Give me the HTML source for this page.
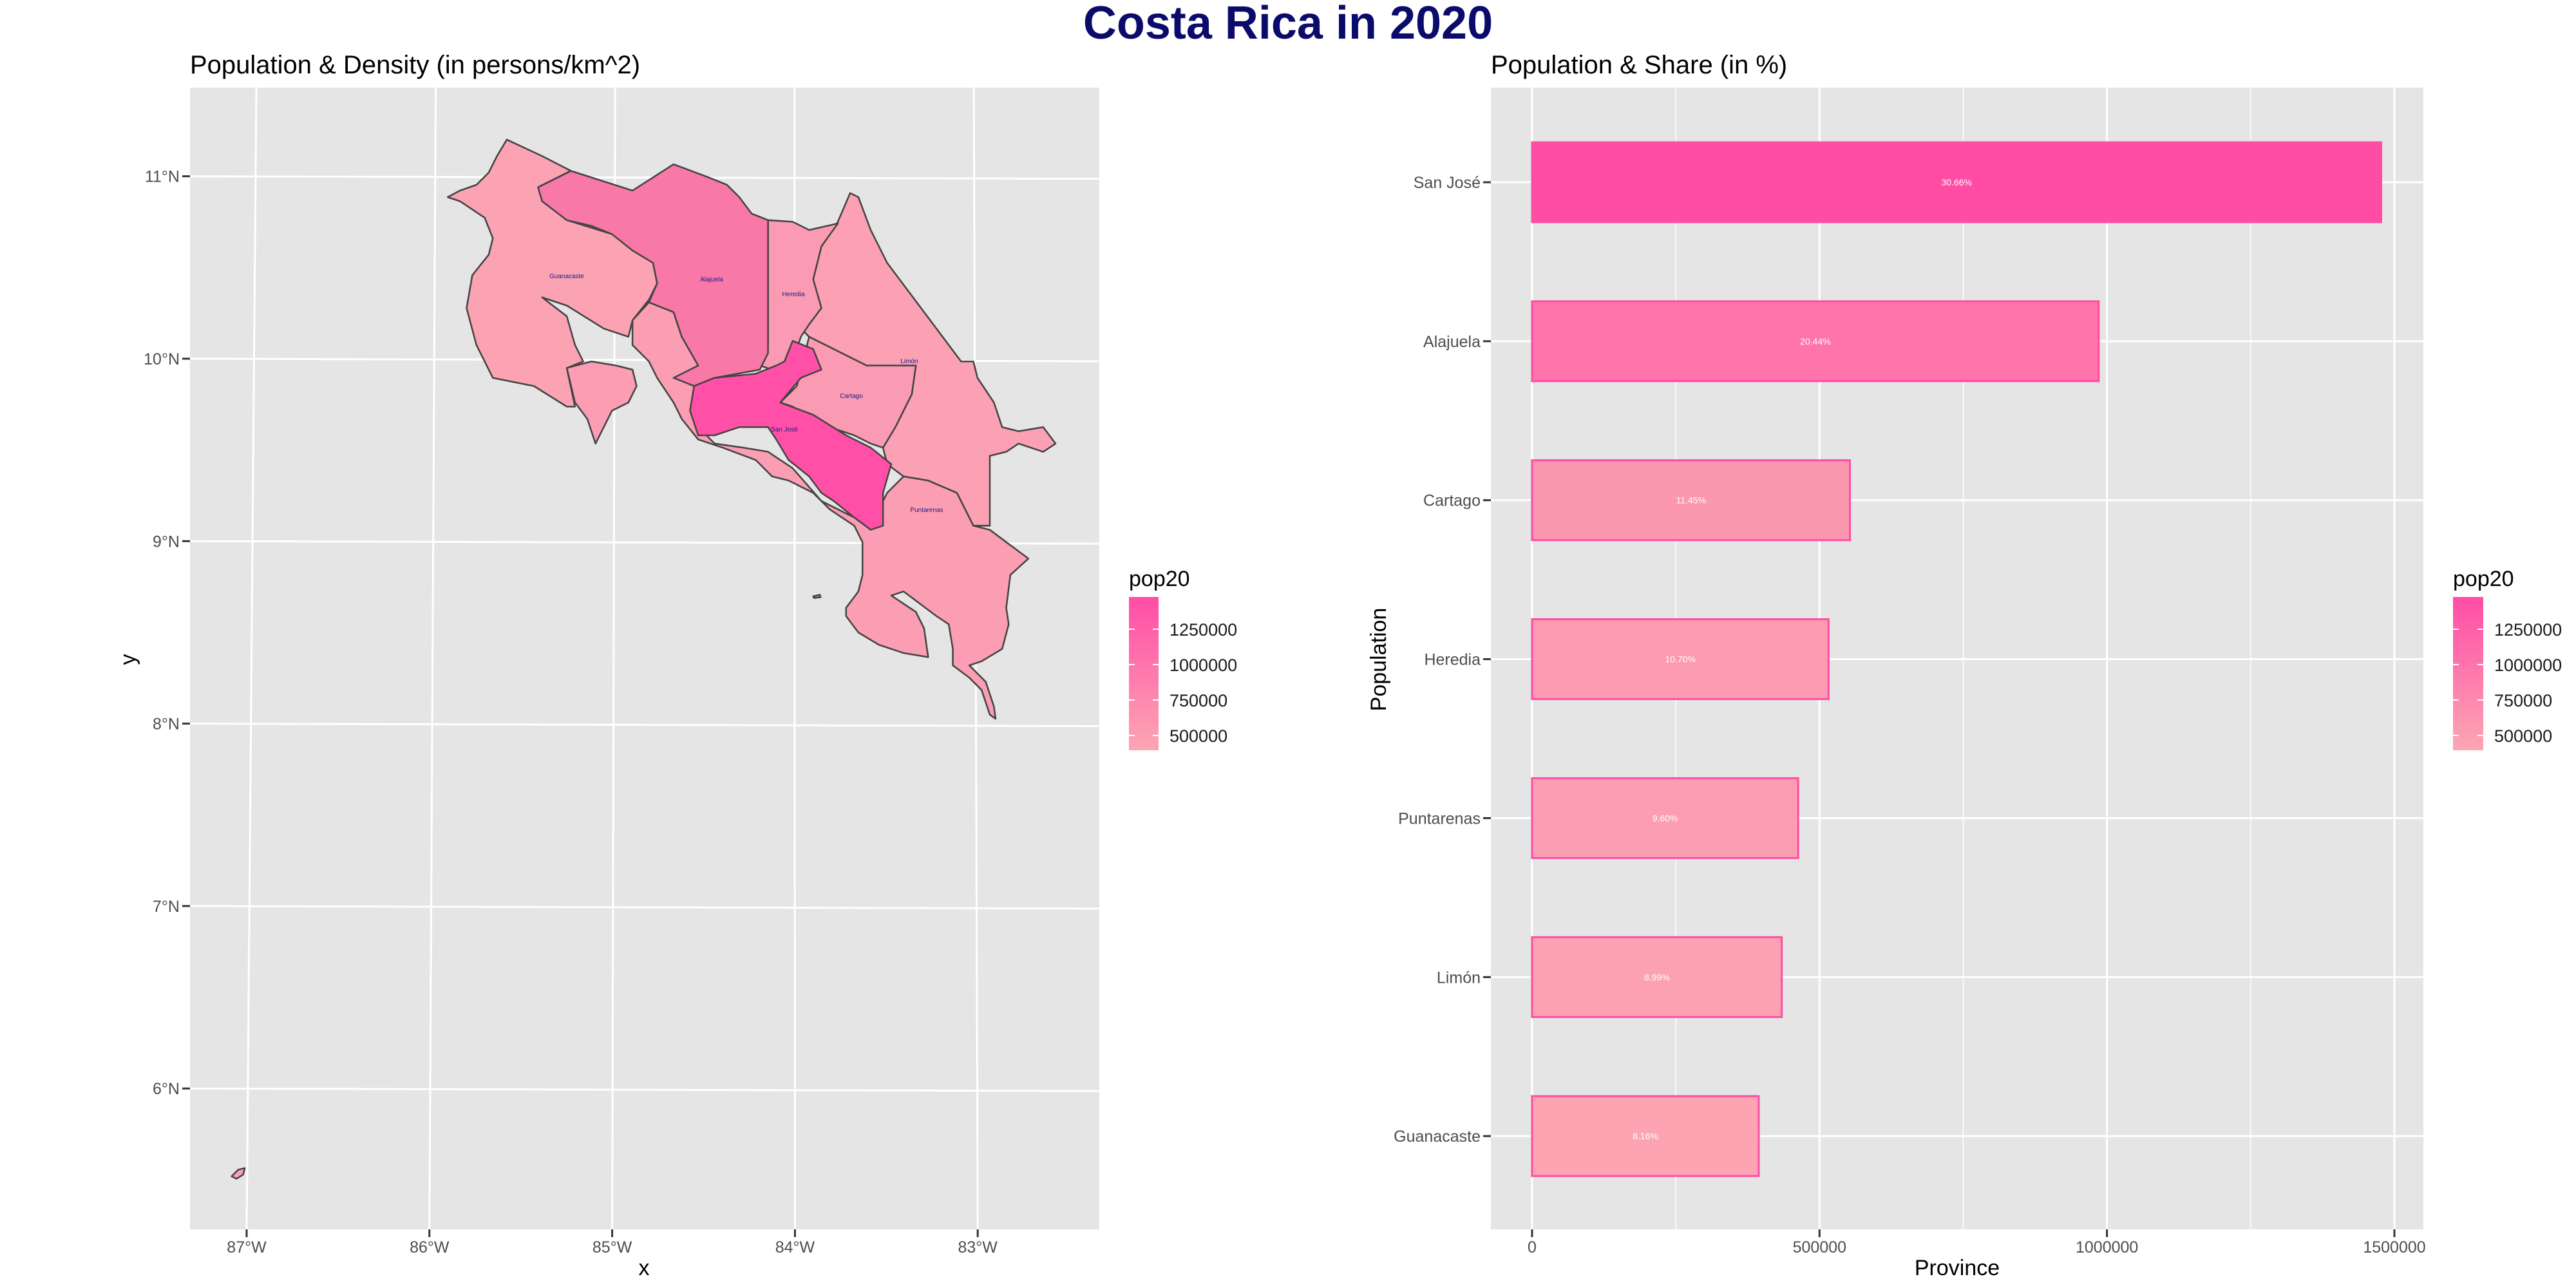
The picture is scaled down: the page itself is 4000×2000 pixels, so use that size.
<!DOCTYPE html>
<html><head><meta charset="utf-8">
<style>
html,body{margin:0;padding:0;background:#fff;}
svg{display:block;font-family:"Liberation Sans",Arial,sans-serif;}
</style></head>
<body>
<svg id="root" width="4000" height="2000" viewBox="0 0 4000 2000" xmlns="http://www.w3.org/2000/svg">
<text x="2000" y="60" text-anchor="middle" font-size="72" font-weight="bold" fill="#0B0B6B">Costa Rica in 2020</text>

<!-- MAP PANEL -->
<text x="295" y="114" font-size="40" fill="#000">Population &amp; Density (in persons/km^2)</text>
<rect x="295" y="136" width="1412" height="1773" fill="#E5E5E5"/>
<g id="mapgrid"></g>
<g id="mapticks"></g>
<g transform="scale(1.2755)" fill="#FBA3B2" stroke="#444" stroke-width="2" stroke-linejoin="round">
<polygon points="617,170 660,190 695,208 655,228 690,268 745,285 795,320 800,345 790,365 770,390 765,410 735,400 690,372 660,362 690,385 700,420 710,440 690,448 700,495 690,495 650,470 600,460 580,420 568,375 575,335 595,310 600,290 590,265 560,245 545,240 560,232 580,225 595,210 605,190"/>
<polygon fill="#FB9EB3" points="770,390 790,368 820,380 830,410 850,445 860,470 845,490 850,520 870,540 905,545 935,550 965,570 1000,610 1040,630 1060,640 1080,600 1100,580 1130,585 1165,600 1185,640 1205,645 1225,660 1252,680 1230,700 1225,740 1228,760 1220,790 1195,805 1180,810 1200,830 1210,860 1212,875 1205,870 1195,840 1180,825 1160,810 1160,790 1155,760 1140,750 1120,735 1100,720 1085,725 1115,745 1125,765 1130,800 1100,795 1070,785 1045,770 1030,750 1030,740 1045,720 1050,700 1050,660 1040,640 1010,620 990,600 960,585 940,580 920,560 880,545 850,535 830,510 820,490 800,460 790,440 770,420"/>
<polygon fill="#FB9EB3" points="690,448 720,440 750,445 770,450 775,470 765,490 745,500 735,520 725,540 715,510 700,490"/>
<polygon fill="#FBA1B3" points="1000,300 1020,270 1035,235 1045,240 1060,280 1080,320 1110,360 1140,400 1170,440 1185,440 1190,460 1210,490 1220,520 1240,525 1270,520 1285,540 1270,550 1240,540 1225,550 1205,555 1205,640 1185,640 1165,600 1130,585 1100,580 1080,565 1075,545 1090,520 1110,480 1115,445 1055,445 985,410 975,400"/>
<polygon fill="#FB9BB3" points="935,268 965,270 985,280 1020,272 1000,300 990,340 1000,375 985,395 975,410 965,440 940,450 925,445 935,420"/>
<polygon fill="#F878A8" points="655,228 695,208 770,232 820,200 860,215 885,225 900,240 915,260 935,268 935,430 925,450 870,460 845,470 820,460 850,445 830,410 820,380 790,368 800,345 795,320 770,305 745,285 720,275 690,268 660,245"/>
<polygon fill="#FB9BB3" points="985,410 1055,445 1115,445 1110,480 1090,520 1075,545 1060,540 1040,530 1010,520 985,510 965,495 950,490 970,470 975,450"/>
<polygon fill="#FF4FA6" points="965,415 990,425 1000,450 975,460 950,490 990,505 1030,530 1060,545 1085,565 1075,600 1075,640 1060,645 1040,630 1015,610 1000,600 985,580 960,560 945,535 935,520 900,520 870,530 850,530 840,500 845,470 870,460 920,455 945,445 955,440"/>
<polygon points="282,1432 290,1424 298,1422 296,1430 288,1435"/>
<polygon points="990,726 998,724 999,727 991,728"/>
</g>
<g font-size="10" fill="#1a1a8a" text-anchor="middle">
<text x="880" y="432">Guanacaste</text><text x="1105" y="437">Alajuela</text><text x="1232" y="460">Heredia</text>
<text x="1412" y="564">Limón</text><text x="1322" y="618">Cartago</text><text x="1218" y="670">San José</text><text x="1439" y="795">Puntarenas</text>
</g>
<text x="1000" y="1980" font-size="34" text-anchor="middle">x</text>
<text transform="translate(210,1024) rotate(-90)" font-size="34" text-anchor="middle">y</text>

<defs>
<linearGradient id="lg" x1="0" y1="1" x2="0" y2="0">
<stop offset="0" stop-color="#FCA6B3"/><stop offset="1" stop-color="#FF4DA6"/>
</linearGradient>
</defs>
<g>
<text x="1753" y="910" font-size="34">pop20</text>
<rect x="1753" y="927" width="46" height="238" fill="url(#lg)"/>
<g id="legend1"></g>
</g>

<!-- BAR PANEL -->
<text x="2315" y="114" font-size="40" fill="#000">Population &amp; Share (in %)</text>
<rect x="2315" y="136" width="1448" height="1773" fill="#E5E5E5"/>
<g id="bargrid"></g>
<g id="bars"></g>
<g id="barticks"></g>
<text x="3039" y="1980" font-size="34" text-anchor="middle">Province</text>
<text transform="translate(2152,1024) rotate(-90)" font-size="34" text-anchor="middle">Population</text>
<g>
<text x="3809" y="910" font-size="34">pop20</text>
<rect x="3809" y="927" width="47" height="238" fill="url(#lg)"/>
<g id="legend2"></g>
</g>
</svg>
<script>
const provinces = ["San José","Alajuela","Cartago","Heredia","Puntarenas","Limón","Guanacaste"];
const population = [1477000, 985700, 552900, 515700, 462900, 434300, 394300];
const shareLabels = ["30.66%","20.44%","11.45%","10.70%","9.60%","8.99%","8.16%"];
const xTicks = [0, 500000, 1000000, 1500000];
const xMinorTicks = [250000, 750000, 1250000];
const legendTicks = [500000, 750000, 1000000, 1250000];
const latTicks = [11,10,9,8,7,6];
const lonTicks = [-87,-86,-85,-84,-83];

const NS = "http://www.w3.org/2000/svg";
function mk(tag, attrs, parent){const e=document.createElementNS(NS,tag);for(const k in attrs)e.setAttribute(k,attrs[k]);parent.appendChild(e);return e;}

const xS = v => 2379 + v*(3718-2379)/1500000;
const yS = i => 283 + i*246.85;
const popMin = 394300, popMax = 1477000;
function col(v){const t=Math.max(0,Math.min(1,(v-popMin)/(popMax-popMin)));
  const a=[252,164,178], b=[255,77,166];
  return `rgb(${Math.round(a[0]+(b[0]-a[0])*t)},${Math.round(a[1]+(b[1]-a[1])*t)},${Math.round(a[2]+(b[2]-a[2])*t)})`;}

const bg=document.getElementById('bargrid');
xMinorTicks.forEach(v=>{const l=mk('line',{x1:xS(v),x2:xS(v),y1:136,y2:1909,stroke:'#fff','stroke-width':1.5},bg);

});
xTicks.forEach(v=>{const l=mk('line',{x1:xS(v),x2:xS(v),y1:136,y2:1909,stroke:'#fff','stroke-width':3},bg);

});
provinces.forEach((p,i)=>{const l=mk('line',{x1:2315,x2:3763,y1:yS(i),y2:yS(i),stroke:'#fff','stroke-width':3},bg);

});

const bars=document.getElementById('bars');
const bt=document.getElementById('barticks');
provinces.forEach((p,i)=>{
  const r=mk('rect',{x:xS(0),y:yS(i)-62,width:xS(population[i])-xS(0),height:124,fill:col(population[i]),stroke:'#FF4DA6','stroke-width':3},bars);
  
  
  const t=mk('text',{x:(xS(0)+xS(population[i]))/2,y:yS(i)+5,'font-size':14,fill:'#fff','text-anchor':'middle'},bars);
  t.textContent=shareLabels[i];
  
  
  mk('line',{x1:2303,x2:2315,y1:yS(i),y2:yS(i),stroke:'#333','stroke-width':3},bt);
  const c=mk('text',{x:2299,y:yS(i)+9,'font-size':25,fill:'#4d4d4d','text-anchor':'end'},bt);
  c.textContent=p;
  
  
});
xTicks.forEach(v=>{
  mk('line',{x1:xS(v),x2:xS(v),y1:1909,y2:1921,stroke:'#333','stroke-width':3},bt);
  const t=mk('text',{x:xS(v),y:1945,'font-size':25,fill:'#4d4d4d','text-anchor':'middle'},bt);
  t.textContent=v;
  
  
});

const legY = v => 1142 + (v-500000)*(977-1142)/750000;
[['legend1',1753,1799],['legend2',3809,3856]].forEach(([id,x0,x1])=>{
  const g=document.getElementById(id);
  legendTicks.forEach(v=>{
    mk('line',{x1:x0,x2:x0+9,y1:legY(v),y2:legY(v),stroke:'#fff','stroke-width':2},g);
    mk('line',{x1:x1-9,x2:x1,y1:legY(v),y2:legY(v),stroke:'#fff','stroke-width':2},g);
    const t=mk('text',{x:x1+17,y:legY(v)+10,'font-size':27,fill:'#1a1a1a'},g);
    t.textContent=v;
    
    
  });
});

const latY = (lat,x) => 557 - (lat-10)*283.3 + (x-295)*0.0028;
const lonX = (lon,y) => 383 + (lon+87)*283.8 + (1909-y)*0.0085*(1+(lon+87)*-0.35);
const mg=document.getElementById('mapgrid'), mt=document.getElementById('mapticks');
latTicks.forEach(lat=>{
  const l=mk('line',{x1:295,x2:1707,y1:latY(lat,295),y2:latY(lat,1707),stroke:'#fff','stroke-width':3},mg);
  
  
  mk('line',{x1:283,x2:295,y1:latY(lat,295),y2:latY(lat,295),stroke:'#333','stroke-width':3},mt);
  const t=mk('text',{x:279,y:latY(lat,295)+9,'font-size':25,fill:'#4d4d4d','text-anchor':'end'},mt);
  t.textContent=lat+'°N';
  
  
});
lonTicks.forEach(lon=>{
  const l=mk('line',{x1:lonX(lon,136),x2:lonX(lon,1909),y1:136,y2:1909,stroke:'#fff','stroke-width':3},mg);
  
  
  mk('line',{x1:lonX(lon,1909),x2:lonX(lon,1909),y1:1909,y2:1921,stroke:'#333','stroke-width':3},mt);
  const t=mk('text',{x:lonX(lon,1909),y:1945,'font-size':25,fill:'#4d4d4d','text-anchor':'middle'},mt);
  t.textContent=Math.abs(lon)+'°W';
  
  
});
</script>
</body></html>
